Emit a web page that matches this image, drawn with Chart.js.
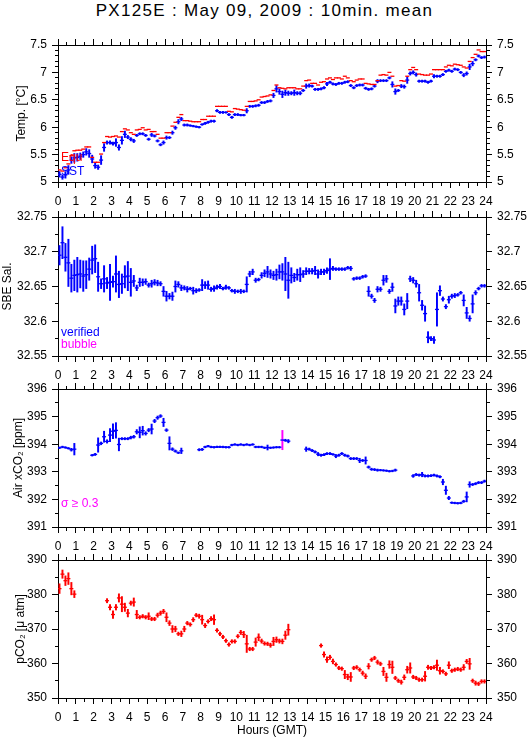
<!DOCTYPE html>
<html>
<head>
<meta charset="utf-8">
<script src="https://cdn.jsdelivr.net/npm/chart.js@4.4.0/dist/chart.umd.min.js"></script>
<style>
  body { margin: 0; width: 529px; height: 739px; background: #fff; position: relative; overflow: hidden;
         font-family: "Liberation Sans", Arial, Helvetica, sans-serif; }
  #title { position: absolute; left: 0; top: 1px; width: 529px; text-align: center;
           font-size: 17px; line-height: 20px; letter-spacing: 1.3px; color: #000; }
</style>
</head>
<body>
<div id="title">PX125E : May 09, 2009 : 10min. mean</div>
<script>
const NA = null;

// 10-minute means, 6 values per hour, 0h .. 24h GMT
const tempEqu = [
  5.22,5.20,5.26,5.33,5.48,5.57, 5.58,5.58,5.60,5.64,5.64,5.45, 5.36,5.36,5.51,5.72,5.83,5.82,
  5.83,5.84,5.82,5.92,5.97,5.95, 5.90,5.87,5.95,5.96,5.99,5.95, 5.96,5.92,5.92,5.87,5.80,5.80,
  5.90,5.90,6.02,6.09,6.18,6.23, 6.12,6.12,6.11,6.10,6.10,6.10, 6.14,6.14,6.20,6.20,6.20,6.38,
  6.38,6.38,6.38,6.29,6.28,6.34, 6.33,6.32,6.31,6.38,6.47,6.47, 6.48,6.50,6.55,6.56,6.57,6.59,
  6.67,6.77,6.72,6.71,6.70,6.72, 6.72,6.72,6.70,6.70,6.75,6.85, 6.86,6.80,6.80,6.77,6.82,6.83,
  6.88,6.90,6.87,6.90,6.90,6.88, 6.93,6.90,6.85,6.83,6.86,6.88, 6.88,6.80,6.79,6.78,6.78,6.85,
  6.95,6.96,6.95,7.00,6.93,6.75, 6.76,6.85,6.84,6.93,7.05,7.09, 7.05,6.97,6.96,6.95,6.95,6.97,
  7.05,7.05,7.05,7.05,7.10,7.13, 7.12,7.15,7.14,7.13,7.10,7.08, 7.20,7.27,7.33,7.41,7.38,7.38
];
const tempSST = [
  5.14,5.09,5.13,5.22,5.40,5.44, 5.45,5.47,5.50,5.55,5.52,5.42, 5.30,5.27,5.40,5.63,5.72,5.72,
  5.70,5.72,5.63,5.76,5.87,5.82, 5.78,5.75,5.85,5.88,5.88,5.85, 5.78,5.86,5.84,5.75,5.68,5.72,
  5.81,5.81,5.90,5.99,6.10,6.15, 6.04,6.04,6.03,6.02,6.01,6.00, 6.05,6.07,6.09,6.11,6.11,6.30,
  6.27,6.27,6.27,6.23,6.18,6.23, 6.23,6.22,6.22,6.30,6.38,6.38, 6.39,6.40,6.45,6.45,6.47,6.48,
  6.58,6.70,6.65,6.60,6.63,6.62, 6.62,6.63,6.62,6.62,6.67,6.75, 6.76,6.75,6.69,6.69,6.70,6.72,
  6.79,6.82,6.79,6.78,6.80,6.80, 6.82,6.83,6.76,6.72,6.76,6.77, 6.77,6.71,6.69,6.70,6.75,6.84,
  6.85,6.85,6.85,6.90,6.78,6.65, 6.67,6.75,6.74,6.86,6.98,7.00, 6.96,6.84,6.84,6.84,6.82,6.84,
  6.93,6.93,6.93,6.96,7.02,7.04, 7.02,7.06,7.05,7.00,6.95,6.98, 7.10,7.16,7.23,7.30,7.27,7.28
];
const tempSd = [
  .05,.04,.06,.08,.06,.08, .07,.06,.05,.06,.07,.07, .05,.04,.08,.07,.03,.03,
  .03,.07,.05,.07,.06,.03, .03,.03,.02,.02,.02,.02, .02,.03,.02,.02,.02,.03,
  .03,.02,.03,.03,.04,.03, .02,.02,.015,.015,.015,.015, .015,.02,.02,.02,.02,.02,
  .02,.02,.015,.02,.02,.02, .02,.015,.015,.04,.02,.02, .02,.02,.02,.02,.02,.02,
  .04,.06,.05,.06,.05,.04, .03,.05,.03,.03,.02,.04, .03,.02,.02,.02,.02,.02,
  .03,.02,.02,.02,.02,.02, .02,.02,.02,.02,.02,.02, .02,.02,.02,.02,.02,.03,
  .02,.02,.02,.02,.05,.05, .02,.03,.03,.06,.03,.03, .03,.02,.02,.02,.02,.02,
  .03,.02,.02,.02,.02,.02, .02,.02,.02,.02,.03,.03, .05,.04,.02,.02,.02,.02
];

const sal = [
  32.695,32.713,32.692,32.684,32.662,32.666, 32.667,32.668,32.665,32.667,32.675,32.688,
  32.690,32.664,32.654,32.661,32.655,32.656, 32.657,32.668,32.653,32.654,32.664,32.665,
  32.656,32.658,32.648,32.656,32.656,32.657, 32.652,32.654,32.656,32.655,32.654,32.643,
  32.636,32.636,32.636,32.650,32.653,32.648, 32.648,32.646,32.647,32.644,32.644,32.645,
  32.652,32.652,32.652,32.646,32.647,32.649, 32.650,32.647,32.649,32.648,32.644,32.643,
  32.643,32.643,32.643,32.653,32.668,32.671, 32.659,32.660,32.666,32.669,32.671,32.668,
  32.666,32.667,32.671,32.671,32.668,32.659, 32.666,32.663,32.667,32.667,32.668,32.672,
  32.672,32.672,32.673,32.668,32.671,32.671, 32.673,32.675,32.676,32.675,32.675,32.675,
  32.675,32.677,32.676,32.661,32.662,32.662, 32.664,32.665,32.643,32.636,32.630,32.646,
  32.646,32.659,32.661,32.643,32.649,32.622, 32.629,32.629,32.617,32.629,32.661,32.659,
  32.654,32.641,32.623,32.611,32.577,32.575, 32.573,32.617,32.644,32.632,32.621,32.631,
  32.636,32.637,32.638,32.641,32.630,32.612, 32.604,32.625,32.641,32.647,32.651,32.651
];
const salSd = [
  .014,.023,.020,.034,.020,.022, .025,.020,.022,.020,.016,.020, .020,.021,.007,.019,.008,.026,
  .008,.026,.019,.014,.016,.021, .020,.008,.004,.006,.005,.004, .003,.005,.004,.004,.003,.007,
  .007,.004,.006,.008,.004,.004, .003,.004,.002,.005,.003,.002, .008,.005,.006,.003,.004,.003,
  .003,.002,.003,.002,.002,.003, .002,.003,.002,.011,.004,.004, .003,.002,.004,.005,.008,.006,
  .006,.008,.010,.012,.024,.026, .011,.006,.008,.010,.005,.005, .004,.004,.006,.006,.004,.004,
  .004,.015,.003,.002,.002,.002, .002,.002,.003,.002,.002,.002, .002,.002,.007,.003,.003,.004,
  .003,.007,.005,.003,.006,.010, .006,.006,.008,.011,.004,.004, .005,.012,.007,.011,.008,.003,
  .005,.024,.007,.003,.003,.005, .003,.003,.002,.002,.008,.008, .004,.013,.003,.002,.002,.002
];

const airCO2 = [
  393.87,393.90,393.88,393.85,393.80,393.82, NA,NA,NA,NA,NA,393.60, 393.63,393.97,394.03,394.27,394.10,394.33,
  394.47,394.50,393.99,394.20,394.20,394.20, 394.24,394.27,394.45,394.43,394.49,394.39, 394.51,394.55,394.84,394.96,395.02,394.79,
  394.51,394.03,393.82,393.75,393.69,393.76, NA,NA,NA,NA,NA,393.80, 393.81,393.90,393.93,393.90,393.89,393.90,
  393.90,393.90,393.89,393.89,393.97,393.99, 393.97,393.99,393.97,393.99,393.97,393.99, 393.90,393.90,393.90,393.87,393.88,393.87,
  393.88,393.89,393.89,394.15,394.14,394.11, NA,NA,NA,NA,NA,393.82, 393.82,393.77,393.72,393.64,393.60,393.62,
  393.66,393.66,393.63,393.57,393.60,393.66, 393.60,393.57,393.48,393.48,393.48,393.41, 393.41,393.41,393.17,393.09,393.08,393.06,
  393.06,393.05,393.04,393.02,393.03,393.06, NA,NA,NA,NA,NA,392.85, 392.90,392.88,392.90,392.85,392.85,392.86,
  392.88,392.85,392.82,392.63,392.33,392.05, 391.88,391.87,391.86,391.87,391.93,392.09, 392.54,392.54,392.57,392.61,392.61,392.66
];
const airSd = [
  .03,.03,.03,.03,.05,.21, 0,0,0,0,0,.03, .04,.26,.05,.20,.06,.24,
  .27,.28,.23,.04,.04,.04, .05,.05,.08,.20,.16,.06, .06,.18,.06,.06,.05,.15,
  .05,.24,.05,.04,.03,.10, 0,0,0,0,0,.04, .04,.03,.03,.03,.03,.03,
  .03,.03,.03,.03,.03,.03, .03,.03,.03,.03,.03,.03, .03,.03,.03,.03,.09,.03,
  .03,.03,.03,.35,.04,.06, 0,0,0,0,0,.08, .04,.04,.04,.06,.04,.04,
  .04,.04,.03,.06,.04,.04, .04,.04,.04,.04,.04,.08, .04,.13,.04,.04,.04,.04,
  .03,.03,.03,.03,.03,.04, 0,0,0,0,0,.05, .04,.04,.08,.04,.04,.04,
  .04,.04,.04,.10,.15,.06, .03,.03,.03,.03,.04,.18, .10,.04,.04,.04,.04,.04
];

const pCO2 = [
  381.7,385.9,384.0,384.6,381.7,380.1, NA,NA,NA,NA,NA,NA, NA,NA,NA,NA,378.2,376.3,
  374.2,376.3,379.0,377.2,376.3,374.6, 377.5,377.8,374.2,373.4,373.7,373.4, 373.7,372.9,372.9,374.0,374.6,375.1,
  373.4,371.7,370.0,370.0,368.6,368.6, 370.0,371.7,371.3,372.7,374.0,373.7, 372.7,371.0,372.2,373.0,372.7,369.6,
  368.6,367.7,366.6,365.5,366.4,366.4, 367.9,369.0,368.4,365.7,364.2,364.2, 366.2,367.6,366.5,365.8,365.7,365.3,
  366.4,366.9,366.5,366.4,368.2,369.8, NA,NA,NA,NA,NA,NA, NA,NA,NA,NA,365.2,362.6,
  361.1,361.8,360.6,359.7,358.7,358.5, 356.8,356.1,356.1,358.7,358.9,358.2, 357.2,356.3,359.2,361.1,361.6,360.4,
  359.9,357.7,356.0,359.7,358.9,355.8, 355.0,354.6,356.0,358.2,358.7,356.1, 355.8,355.3,355.3,356.3,358.9,358.7,
  358.9,359.5,357.9,357.7,357.0,359.5, 357.9,358.2,358.4,358.2,358.9,360.6, 359.9,355.0,354.3,354.1,354.8,354.8
];
const pCO2Sd = [
  1.4,1.2,1.4,1.7,1.8,1.0, 0,0,0,0,0,0, 0,0,0,0,0.6,0.8,
  1.1,0.8,1.2,2.2,1.2,1.1, 0.6,1.2,1.2,0.5,0.5,0.5, 1.0,0.5,0.5,0.6,0.6,0.6,
  1.3,0.7,1.0,0.8,0.5,0.8, 0.8,0.5,0.5,0.6,0.5,0.6, 1.3,0.6,0.5,0.6,1.4,0.5,
  0.5,0.5,0.5,0.5,0.5,0.5, 0.5,0.6,0.9,2.5,0.5,0.5, 1.2,1.0,0.6,0.5,0.5,0.6,
  1.2,0.8,0.6,0.7,1.2,1.6, 0,0,0,0,0,0, 0,0,0,0,0.5,0.8,
  0.8,0.6,0.7,0.5,0.5,0.5, 1.2,0.8,1.3,0.5,0.5,0.5, 0.6,0.7,0.8,0.5,0.5,0.6,
  0.5,1.2,1.2,1.1,1.8,0.5, 0.5,0.6,0.7,1.0,1.5,0.5, 0.5,0.5,0.5,1.4,0.6,0.5,
  0.5,1.5,1.0,0.5,0.5,1.0, 0.5,0.5,0.5,0.5,0.8,0.6, 1.6,0.5,0.6,0.5,0.5,0.5
];

// tick labels
const hourLabels = [0,1,2,3,4,5,6,7,8,9,10,11,12,13,14,15,16,17,18,19,20,21,22,23,24];
const tempLabels = [5, 5.5, 6, 6.5, 7, 7.5];
const salLabels = [32.55, 32.6, 32.65, 32.7, 32.75];
const airLabels = [391, 392, 393, 394, 395, 396];
const pco2Labels = [350, 360, 370, 380, 390];

const BLUE = '#0000ff', RED = '#ff0000', MAGENTA = '#ff00ff';

// slot centre times (hours)
const hours = [];
for (let i = 0; i < 144; i++) hours.push((i + 0.5) / 6);

Chart.defaults.font.family = '"Liberation Sans", Arial, Helvetica, "DejaVu Sans", sans-serif';
Chart.defaults.font.size = 12;
Chart.defaults.color = '#000';

function marks(vals, color) {
  const data = [];
  vals.forEach((v, i) => { if (v !== null) data.push({x: hours[i], y: v}); });
  return {type: 'scatter', data, pointStyle: 'line', pointRadius: 2, pointHoverRadius: 2,
          pointBorderWidth: 1.3, pointBorderColor: color, borderColor: color, order: 1};
}
function errBars(vals, sd, color, flag) {
  const data = [], cols = [];
  vals.forEach((v, i) => {
    if (v === null) return;
    data.push({x: hours[i], y: [v - sd[i], v + sd[i]]});
    cols.push(flag && sd[i] >= 0.3 ? flag : color);
  });
  return {type: 'bar', data, backgroundColor: cols, barThickness: 1.3, borderWidth: 0, grouped: false, order: 2};
}

function tickList(min, max, step) {
  const out = [];
  const n = Math.round((max - min) / step);
  for (let k = 0; k <= n; k++) out.push(+(min + k * step).toFixed(4));
  return out;
}
const has = (list, v) => list.some(l => Math.abs(l - v) < 1e-6);

const MAJ = 6, MIN = 3;
function tickDash(list, outerFirst) {
  return c => has(list, c.tick.value) ? [] : (outerFirst ? [0, MAJ - MIN, MIN, 100] : [MIN, 100]);
}

function yAxis(p, side) {
  const ticks = tickList(p.min, p.max, p.minor);
  return {
    type: 'linear', axis: 'y', position: side, min: p.min, max: p.max,
    afterBuildTicks: s => { s.ticks = ticks.map(v => ({value: v})); },
    afterFit: s => { s.width = side === 'left' ? 58 : 43; },
    ticks: {autoSkip: false, padding: 5, color: '#000',
            callback: v => has(p.labels, v) ? String(+v.toFixed(3)) : ''},
    grid: {drawOnChartArea: false, tickLength: MAJ, color: '#000', tickBorderDash: tickDash(p.labels, side === 'left')},
    border: {color: '#000', width: 1},
    title: side === 'left'
      ? {display: true, text: p.title, color: '#000', font: {size: 12}, padding: {top: p.titlePad, bottom: 0}}
      : {display: false}
  };
}
function xAxis(side, p) {
  const ticks = tickList(0, 24, 0.5);
  return {
    type: 'linear', axis: 'x', position: side, min: 0, max: 24, offset: false,
    afterBuildTicks: s => { s.ticks = ticks.map(v => ({value: v})); },
    afterFit: s => { s.height = side === 'top' ? 15 : p.bottom; },
    ticks: {autoSkip: false, maxRotation: 0, padding: 6, color: '#000',
            callback: v => (side === 'bottom' && has(hourLabels, v)) ? String(v) : ''},
    grid: {drawOnChartArea: false, offset: false, tickLength: MAJ, color: '#000',
           tickBorderDash: tickDash(hourLabels, side === 'top')},
    border: {color: '#000', width: 1},
    title: (side === 'bottom' && p.xTitle)
      ? {display: true, text: p.xTitle, color: '#000', font: {size: 12}, padding: {top: 0, bottom: 1}}
      : {display: false}
  };
}

const notesPlugin = {
  id: 'notes',
  afterDatasetsDraw(chart, args, opts) {
    const {ctx, chartArea} = chart;
    ctx.save();
    ctx.font = '12px "Liberation Sans", Arial, "DejaVu Sans", sans-serif';
    ctx.textBaseline = 'middle';
    (opts.items || []).forEach(it => {
      ctx.fillStyle = it.color;
      ctx.fillText(it.text, chartArea.left + 3, chartArea.bottom - it.dy);
    });
    ctx.restore();
  }
};

const panels = [
  {top: 45, h: 137, bottom: 28, min: 5, max: 7.5, minor: 0.1, labels: tempLabels,
   title: 'Temp. [°C]', titlePad: 14,
   datasets: [errBars(tempSST, tempSd, BLUE), marks(tempEqu, RED), marks(tempSST, BLUE)],
   notes: [{text: 'Equ', color: RED, dy: 24}, {text: 'SST', color: BLUE, dy: 10}]},
  {top: 217, h: 139, bottom: 28, min: 32.55, max: 32.75, minor: 0.025, labels: salLabels,
   title: 'SBE Sal.', titlePad: 0,
   datasets: [errBars(sal, salSd, BLUE), marks(sal, BLUE)],
   notes: [{text: 'verified', color: BLUE, dy: 23}, {text: 'bubble', color: MAGENTA, dy: 11}]},
  {top: 389, h: 138, bottom: 28, min: 391, max: 396, minor: 0.5, labels: airLabels,
   title: 'Air xCO₂ [ppm]', titlePad: 11,
   datasets: [errBars(airCO2, airSd, BLUE, MAGENTA), marks(airCO2, BLUE)],
   notes: [{text: 'σ ≥ 0.3', color: MAGENTA, dy: 23}]},
  {top: 560, h: 138, bottom: 41, min: 350, max: 390, minor: 5, labels: pco2Labels,
   title: 'pCO₂ [μ atm]', titlePad: 13, xTitle: 'Hours (GMT)',
   datasets: [errBars(pCO2, pCO2Sd, RED), marks(pCO2, RED)],
   notes: []}
];

panels.forEach(p => {
  const cv = document.createElement('canvas');
  cv.width = 529;
  cv.height = 15 + p.h + p.bottom;
  cv.style.cssText = 'position:absolute;left:0;top:' + (p.top - 15) + 'px;';
  document.body.appendChild(cv);
  new Chart(cv, {
    type: 'bar',
    data: {datasets: p.datasets},
    options: {
      responsive: false,
      animation: false,
      events: [],
      layout: {padding: 0},
      plugins: {legend: {display: false}, tooltip: {enabled: false}, notes: {items: p.notes}},
      scales: {
        x: xAxis('bottom', p),
        xTop: xAxis('top', p),
        y: yAxis(p, 'left'),
        yR: yAxis(p, 'right')
      }
    },
    plugins: [notesPlugin]
  });
});
</script>
</body>
</html>
